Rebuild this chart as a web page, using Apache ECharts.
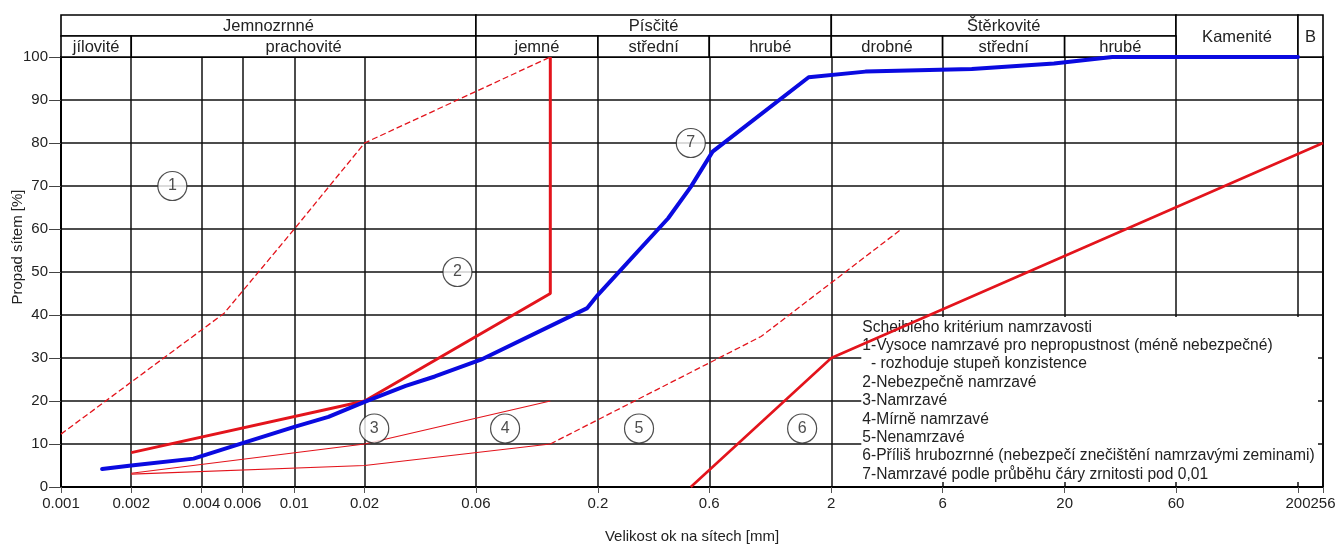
<!DOCTYPE html>
<html><head><meta charset="utf-8">
<script src="https://cdn.jsdelivr.net/npm/echarts@6/dist/echarts.min.js"></script>
<style>html,body{margin:0;padding:0;background:#fff}#c{width:1338px;height:545px}</style>
</head><body><div id="c"></div>
<script>
// ---- data (grain size in mm, passing in %) ----
const tickValues = [0.001,0.002,0.004,0.006,0.01,0.02,0.06,0.2,0.6,2,6,20,60,200,256];
const tickLabels = ['0.001','0.002','0.004','0.006','0.01','0.02','0.06','0.2','0.6','2','6','20','60','200','256'];
const yMin = 0, yMax = 100, yStep = 10;

const curve7 = [[0.0015,4.2],[0.002,5],[0.0037,6.6],[0.006,10.2],[0.01,14],[0.014,16.3],[0.02,19.8],[0.03,23.5],[0.04,25.7],[0.063,29.6],[0.18,41.6],[0.2,44.7],[0.4,62.5],[0.5,69.8],[0.62,78],[1.6,95.3],[2.8,96.6],[8,97.2],[18,98.5],[32,100],[200,100]];
const line1 = [[0.001,12.3],[0.005,40.4],[0.01,60],[0.02,80],[0.125,100]];
const line2 = [[0.002,8],[0.02,20],[0.125,45],[0.125,100]];
const line3 = [[0.002,3.2],[0.02,10],[0.125,20]];
const line4 = [[0.002,3],[0.02,5],[0.125,10]];
const line5 = [[0.125,10],[1,35],[4,60]];
const line6 = [[0.5,0],[2,30],[256,80]];
const zoneMarks = [[0.003,70,'1'],[0.05,50,'2'],[0.022,13.6,'3'],[0.08,13.6,'4'],[0.3,13.6,'5'],[1.5,13.6,'6'],[0.5,80,'7']];

// header cells: [from mm, to mm, row bottom, row top, text]
const headerCells = [
  [0.001,0.06,1,2,'Jemnozrnné'],[0.06,2,1,2,'Písčité'],[2,60,1,2,'Štěrkovité'],
  [60,200,0,2,'Kamenité'],[200,256,0,2,'B'],
  [0.001,0.002,0,1,'jílovité'],[0.002,0.06,0,1,'prachovité'],
  [0.06,0.2,0,1,'jemné'],[0.2,0.6,0,1,'střední'],[0.6,2,0,1,'hrubé'],
  [2,6,0,1,'drobné'],[6,20,0,1,'střední'],[20,60,0,1,'hrubé']
];
const legendLines = [
  'Scheibleho kritérium namrzavosti',
  '1-Vysoce namrzavé pro nepropustnost (méně nebezpečné)',
  '  - rozhoduje stupeň konzistence',
  '2-Nebezpečně namrzavé',
  '3-Namrzavé',
  '4-Mírně namrzavé',
  '5-Nenamrzavé',
  '6-Příliš hrubozrnné (nebezpečí znečištění namrzavými zeminami)',
  '7-Namrzavé podle průběhu čáry zrnitosti pod 0,01'
];
const xName = 'Velikost ok na sítech [mm]';
const yName = 'Propad sítem [%]';

// ---- build ----
const L = v => Math.log10(v);
const xy = arr => arr.map(p => [L(p[0]), p[1]]);
const FONT = 'Liberation Sans, Arial, sans-serif';
const RED = '#e3141c', BLUE = '#0a0ae0';
const xMin = L(tickValues[0]), xMax = L(tickValues[tickValues.length-1]);
const tickLog = tickValues.map(L);
const fmtX = val => { let bi=0, bd=1e9; tickLog.forEach((t,i)=>{const d=Math.abs(t-val); if(d<bd){bd=d;bi=i;}}); return tickLabels[bi]; };

const chart = echarts.init(document.getElementById('c'), null, {renderer:'canvas'});
const lineBase = {type:'line', xAxisIndex:0, yAxisIndex:0, symbol:'none', silent:true, animation:false};

chart.setOption({
  animation:false,
  textStyle:{fontFamily:FONT},
  grid:[
    {left:61, right:15, top:57, bottom:58, show:true, borderColor:'#000', borderWidth:2, backgroundColor:'transparent', outerBoundsMode:'none', containLabel:false},
    {left:61, right:15, top:15, height:42, show:false, outerBoundsMode:'none', containLabel:false}
  ],
  xAxis:[
    {type:'value', gridIndex:0, min:xMin, max:xMax,
     name:xName, nameLocation:'middle', nameGap:42, nameMoveOverlap:false, nameTextStyle:{fontSize:15, color:'#222', fontFamily:FONT},
     axisLine:{show:true, onZero:false, lineStyle:{color:'#000', width:2}},
     axisTick:{show:true, customValues:tickLog, length:6, lineStyle:{color:'#555', width:1}},
     axisLabel:{customValues:tickLog, formatter:fmtX, fontSize:15, color:'#222', margin:9, fontFamily:FONT,
       hideOverlap:false, showMinLabel:true, showMaxLabel:true},
     splitLine:{show:true, lineStyle:{color:'#111', width:1.5}}},
    {type:'value', gridIndex:1, min:xMin, max:xMax, show:false}
  ],
  yAxis:[
    {type:'value', gridIndex:0, min:yMin, max:yMax, interval:yStep,
     name:yName, nameLocation:'middle', nameGap:36, nameMoveOverlap:false,
     nameTextStyle:{fontSize:15, color:'#222', fontFamily:FONT, padding:[0,0,0,50]},
     axisLine:{show:true, onZero:false, lineStyle:{color:'#000', width:2}},
     axisTick:{show:true, length:12, lineStyle:{color:'#444', width:1}},
     axisLabel:{fontSize:15, color:'#222', margin:13, fontFamily:FONT},
     splitLine:{show:true, lineStyle:{color:'#111', width:1.5}}},
    {type:'value', gridIndex:1, min:0, max:2, show:false, axisLine:{onZero:false}}
  ],
  series:[
    {type:'custom', xAxisIndex:1, yAxisIndex:1, silent:true,
     data: headerCells.map(c => [L(c[0]), L(c[1]), c[2], c[3]]),
     renderItem(params, api){
       const c = headerCells[params.dataIndex];
       const p0 = api.coord([api.value(0), api.value(3)]);
       const p1 = api.coord([api.value(1), api.value(2)]);
       return {type:'group', children:[
         {type:'rect', shape:{x:p0[0], y:p0[1], width:p1[0]-p0[0], height:p1[1]-p0[1]},
          style:{fill:'#fff', stroke:'#000', lineWidth:1.6}},
         {type:'text', style:{text:c[4], x:(p0[0]+p1[0])/2, y:(p0[1]+p1[1])/2+1, align:'center', verticalAlign:'middle',
          font:'16.5px ' + FONT, fill:'#222'}}
       ]};
     }},
    Object.assign({}, lineBase, {name:'1', data:xy(line1), z:3, lineStyle:{color:RED, width:1.3, type:[6,3]}}),
    Object.assign({}, lineBase, {name:'2', data:xy(line2), z:4, lineStyle:{color:RED, width:3}}),
    Object.assign({}, lineBase, {name:'3', data:xy(line3), z:3, lineStyle:{color:RED, width:1.2}}),
    Object.assign({}, lineBase, {name:'4', data:xy(line4), z:3, lineStyle:{color:RED, width:1.2}}),
    Object.assign({}, lineBase, {name:'5', data:xy(line5), z:3, lineStyle:{color:RED, width:1.3, type:[6,3]}}),
    Object.assign({}, lineBase, {name:'6', data:xy(line6), z:4, lineStyle:{color:RED, width:2.6}}),
    Object.assign({}, lineBase, {name:'7', data:xy(curve7), z:5, lineStyle:{color:BLUE, width:4, join:'round', cap:'round'}}),
    {type:'scatter', xAxisIndex:0, yAxisIndex:0, silent:true, z:6,
     data: zoneMarks.map(m => [L(m[0]), m[1]]),
     symbol:'circle', symbolSize:29,
     itemStyle:{color:'#fff', borderColor:'#222', borderWidth:1.2},
     label:{show:true, position:'inside', formatter:p => zoneMarks[p.dataIndex][2], fontSize:16, color:'#222', fontFamily:FONT}}
  ]
});

// legend text box anchored to the (2 mm, 40 %) grid crossing
const tl = chart.convertToPixel({gridIndex:0}, [L(2), 40]);
const br = chart.convertToPixel({gridIndex:0}, [xMax, 0]);
chart.setOption({
  graphic:[{type:'group', z:50, children:[
    {type:'rect', shape:{x:tl[0]+30, y:tl[1]+2, width:(br[0]-5)-(tl[0]+30), height:(br[1]-5)-(tl[1]+2)}, style:{fill:'#fff'}},
    {type:'text', x:tl[0]+31, y:tl[1]+3, style:{text:legendLines.join('\n'), font:'15.6px ' + FONT, lineHeight:18.4, fill:'#222', verticalAlign:'top', align:'left'}}
  ]}]
});
</script></body></html>
